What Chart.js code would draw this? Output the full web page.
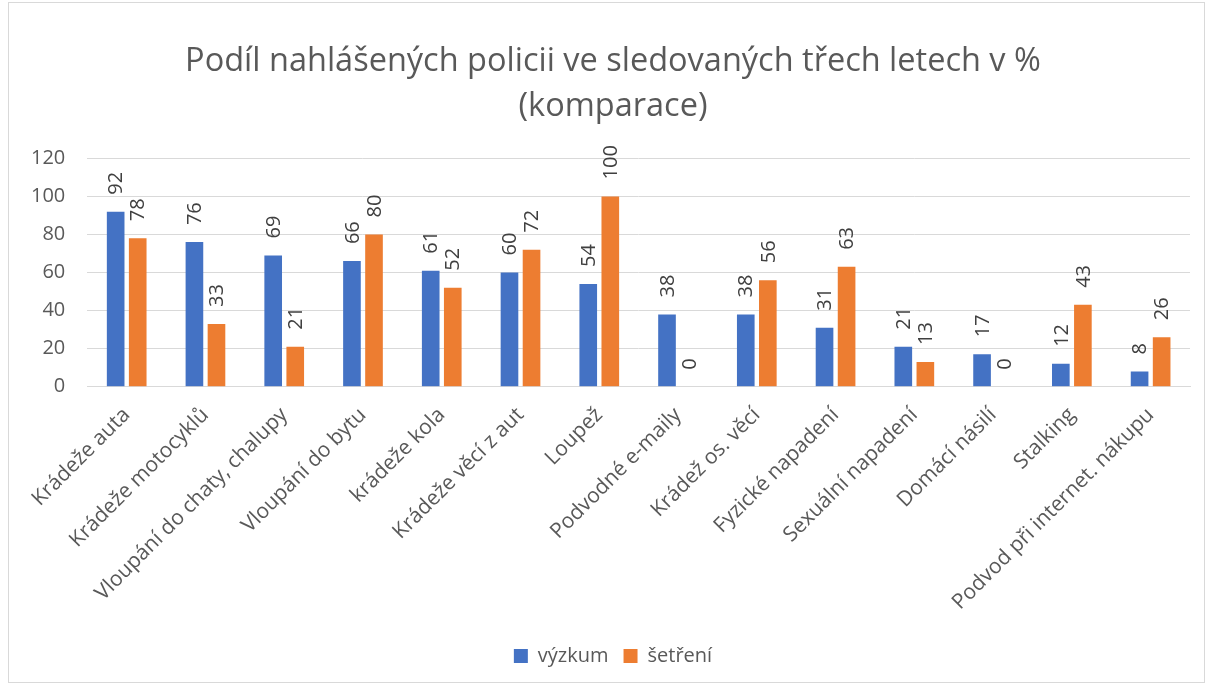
<!DOCTYPE html>
<html>
<head>
<meta charset="utf-8">
<script src="https://cdn.jsdelivr.net/npm/chart.js@4.4.0/dist/chart.umd.min.js"></script>
<style>
  html, body { margin: 0; padding: 0; background: #fff; }
  #wrap { position: absolute; left: 8px; top: 2px; width: 1197px; height: 681px; border: 1px solid #d9d9d9; box-sizing: border-box; }
  canvas { display: block; }
</style>
</head>
<body>
<div id="wrap"><canvas id="c"></canvas></div>
<script>
const categories = ["Krádeže auta", "Krádeže motocyklů", "Vloupání do chaty, chalupy", "Vloupání do bytu", "krádeže kola", "Krádeže věcí z aut", "Loupež", "Podvodné e-maily", "Krádež os. věcí", "Fyzické napadení", "Sexuální napadení", "Domácí násilí", "Stalking", "Podvod při internet. nákupu"];
const vyzkum = [92, 76, 69, 66, 61, 60, 54, 38, 38, 31, 21, 17, 12, 8];
const setreni = [78, 33, 21, 80, 52, 72, 100, 0, 56, 63, 13, 0, 43, 26];
const yTicks = [0, 20, 40, 60, 80, 100, 120];

const FONT = "'Open Sans', 'Noto Sans', sans-serif";

const valueLabels = {
  id: 'valueLabels',
  afterDatasetsDraw(chart) {
    const ctx = chart.ctx;
    ctx.save();
    ctx.fillStyle = '#404040';
    ctx.font = '20px ' + FONT;
    ctx.textAlign = 'left';
    ctx.textBaseline = 'middle';
    chart.data.datasets.forEach((ds, di) => {
      const meta = chart.getDatasetMeta(di);
      meta.data.forEach((el, i) => {
        ctx.save();
        ctx.translate(el.x, el.y - 17);
        ctx.rotate(-Math.PI / 2);
        ctx.fillText(String(ds.data[i]), 0, 1);
        ctx.restore();
      });
    });
    ctx.restore();
  }
};

new Chart(document.getElementById('c'), {
  type: 'bar',
  data: {
    labels: categories,
    datasets: [
      { label: 'výzkum', data: vyzkum, backgroundColor: '#4472c4', categoryPercentage: 0.56, barPercentage: 0.8 },
      { label: 'šetření', data: setreni, backgroundColor: '#ed7d31', categoryPercentage: 0.56, barPercentage: 0.8 }
    ]
  },
  options: {
    responsive: true,
    maintainAspectRatio: false,
    animation: false,
    layout: { padding: { top: 37, left: 13, right: 0, bottom: 6 } },
    plugins: {
      title: {
        display: true,
        text: ['Podíl nahlášených policii ve sledovaných třech letech v %', '(komparace)'],
        color: '#595959',
        font: { family: FONT, size: 32.5, weight: 'normal', lineHeight: 1.36 },
        padding: { top: 0, bottom: 30 }
      },
      legend: {
        position: 'bottom',
        labels: {
          color: '#595959',
          font: { family: FONT, size: 20 },
          boxWidth: 14, boxHeight: 14, padding: 15
        }
      },
      tooltip: { enabled: false }
    },
    scales: {
      x: {
        grid: { display: false, drawTicks: false },
        border: { color: '#d9d9d9', width: 1 },
        afterFit(scale) { scale.paddingLeft = 0; scale.paddingRight = 14; },
        ticks: {
          color: '#595959',
          font: { family: FONT, size: 21 },
          minRotation: 45, maxRotation: 45,
          autoSkip: false, padding: 16
        }
      },
      y: {
        min: 0, max: 120,
        afterBuildTicks(axis) { axis.ticks = yTicks.map(v => ({ value: v })); },
        afterFit(scale) { scale.width -= 13; },
        grid: { color: '#d9d9d9', drawTicks: false },
        border: { display: false },
        ticks: {
          color: '#595959',
          font: { family: FONT, size: 20 },
          padding: 22
        }
      }
    }
  },
  plugins: [valueLabels]
});
</script>
</body>
</html>
